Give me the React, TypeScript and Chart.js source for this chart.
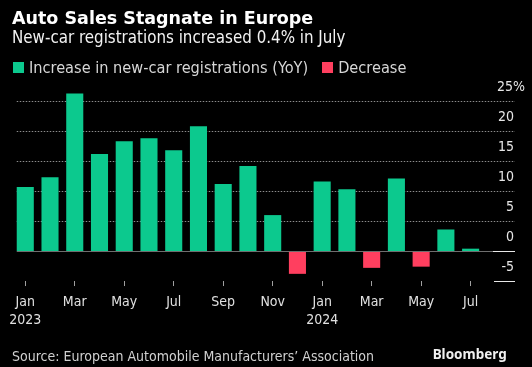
import React, { useEffect, useRef } from "react";
import { Chart, registerables } from "chart.js";

Chart.register(...registerables);

const categories = [
  "Jan 2023", "Feb 2023", "Mar 2023", "Apr 2023", "May 2023", "Jun 2023",
  "Jul 2023", "Aug 2023", "Sep 2023", "Oct 2023", "Nov 2023", "Dec 2023",
  "Jan 2024", "Feb 2024", "Mar 2024", "Apr 2024", "May 2024", "Jun 2024", "Jul 2024",
];
const values = [10.7, 12.3, 26.3, 16.2, 18.3, 18.8, 16.8, 20.8, 11.2, 14.2, 6.0, -3.8, 11.6, 10.3, -2.8, 12.1, -2.6, 3.6, 0.4];
const xTickLabels: (string | string[])[] = [
  ["Jan", "2023"], "", "Mar", "", "May", "", "Jul", "", "Sep", "", "Nov", "",
  ["Jan", "2024"], "", "Mar", "", "May", "", "Jul",
];
const yTicks = [-5, 0, 5, 10, 15, 20, 25];
const yTickLabels = ["-5", "0", "5", "10", "15", "20", "25%"];
const legendLabels = ["Increase in new-car registrations (YoY)", "Decrease"];

const GREEN = "#0cc98e";
const RED = "#ff3f5f";
const FONT = "'DejaVu Sans Condensed', 'Liberation Sans Narrow', Roboto, sans-serif";

const bbgPlugin = {
  id: "bbgGrid",
  beforeDatasetsDraw(chart: any) {
    const { ctx } = chart;
    const y = chart.scales.y;
    const first = chart.getDatasetMeta(0).data[0] as any;
    const startX = first.x - first.width / 2;
    ctx.save();
    ctx.setLineDash([1.5, 1.5]);
    ctx.strokeStyle = "#8c8c8c";
    ctx.lineWidth = 1;
    yTicks.forEach((v) => {
      if (v <= 0) return;
      const py = Math.round(y.getPixelForValue(v)) + 0.5;
      ctx.beginPath();
      ctx.moveTo(startX, py);
      ctx.lineTo(515, py);
      ctx.stroke();
    });
    ctx.restore();
  },
  afterDatasetsDraw(chart: any) {
    const { ctx } = chart;
    const y = chart.scales.y;
    const first = chart.getDatasetMeta(0).data[0] as any;
    const startX = first.x - first.width / 2;
    ctx.save();
    ctx.lineWidth = 1;
    const p0 = Math.round(y.getPixelForValue(0)) + 0.5;
    ctx.strokeStyle = "#6e6e6e";
    ctx.beginPath();
    ctx.moveTo(startX, p0);
    ctx.lineTo(493, p0);
    ctx.stroke();
    ctx.strokeStyle = "#e8e8e8";
    ctx.beginPath();
    ctx.moveTo(493, p0);
    ctx.lineTo(515, p0);
    ctx.stroke();
    const pm = Math.round(y.getPixelForValue(-5)) + 0.5;
    ctx.beginPath();
    ctx.moveTo(494, pm);
    ctx.lineTo(515, pm);
    ctx.stroke();

    ctx.fillStyle = "#e6e6e6";
    ctx.font = `14px ${FONT}`;
    ctx.textBaseline = "middle";
    yTicks.forEach((v, i) => {
      const py = y.getPixelForValue(v) - 14;
      const label = yTickLabels[i];
      if (label.endsWith("%")) {
        ctx.textAlign = "left";
        const num = label.slice(0, -1);
        const w = ctx.measureText(num).width;
        ctx.fillText(label, 513 - w, py);
      } else {
        ctx.textAlign = "right";
        ctx.fillText(label, 514, py);
      }
    });
    ctx.restore();
  },
};

export default function App() {
  const ref = useRef<HTMLCanvasElement | null>(null);

  useEffect(() => {
    document.body.style.margin = "0";
    document.body.style.background = "#000";
    const canvas = ref.current!;
    const chart = new Chart(canvas, {
      type: "bar",
      data: {
        labels: categories,
        datasets: [
          {
            label: legendLabels[0],
            data: values,
            backgroundColor: values.map((v) => (v >= 0 ? GREEN : RED)),
            borderWidth: 0,
            barPercentage: 0.69,
            categoryPercentage: 1,
          },
        ],
      },
      options: {
        responsive: false,
        animation: false,
        devicePixelRatio: 1,
        layout: { padding: { left: 12.9, right: 49, top: 88, bottom: 30 } },
        plugins: {
          legend: { display: false },
          tooltip: { enabled: false },
        },
        scales: {
          x: {
            type: "category",
            offset: true,
            border: { display: false },
            grid: {
              offset: false,
              drawOnChartArea: false,
              drawTicks: true,
              tickLength: 5,
              color: (c: any) => (c.index % 2 === 0 ? "#a0a0a0" : "rgba(0,0,0,0)"),
            },
            ticks: {
              autoSkip: false,
              maxRotation: 0,
              minRotation: 0,
              padding: 7,
              color: "#e0e0e0",
              font: { family: FONT, size: 14, lineHeight: 1.32 },
              callback: (_v: any, i: number) => xTickLabels[i],
            },
          },
          y: { display: false, min: -5, max: 27.2 },
        },
      },
      plugins: [bbgPlugin],
    });
    return () => chart.destroy();
  }, []);

  const box: React.CSSProperties = { position: "absolute", whiteSpace: "nowrap", lineHeight: 1 };
  return (
    <div style={{ position: "fixed", left: 0, top: 0, width: 532, height: 367, background: "#000", overflow: "hidden" }}>
      <canvas ref={ref} width={532} height={367} style={{ position: "absolute", left: 0, top: 0, width: 532, height: 367 }} />
      <div style={{ ...box, left: 12, top: 9.6, fontFamily: "'DejaVu Sans', sans-serif", fontWeight: 700, fontSize: 17.5, color: "#ffffff" }}>
        Auto Sales Stagnate in Europe
      </div>
      <div style={{ ...box, left: 12, top: 29, fontFamily: FONT, fontSize: 16.8, color: "#f2f2f2" }}>
        New-car registrations increased 0.4% in July
      </div>
      <div style={{ ...box, left: 13, top: 59.5, fontFamily: FONT, fontSize: 16.2, color: "#d6d6d6", display: "flex", alignItems: "center" }}>
        <span style={{ display: "inline-block", width: 11, height: 11, background: GREEN, marginRight: 5 }} />
        <span>{legendLabels[0]}</span>
        <span style={{ display: "inline-block", width: 11, height: 11, background: RED, marginLeft: 14, marginRight: 5 }} />
        <span>{legendLabels[1]}</span>
      </div>
      <div style={{ ...box, left: 12, top: 349, fontFamily: FONT, fontSize: 14, color: "#d0d0d0" }}>
        Source: European Automobile Manufacturers’ Association
      </div>
      <div style={{ ...box, right: 25.3, top: 348, fontFamily: "'Noto Sans', sans-serif", fontWeight: 700, fontSize: 13.5, color: "#f0f0f0" }}>
        Bloomberg
      </div>
    </div>
  );
}
